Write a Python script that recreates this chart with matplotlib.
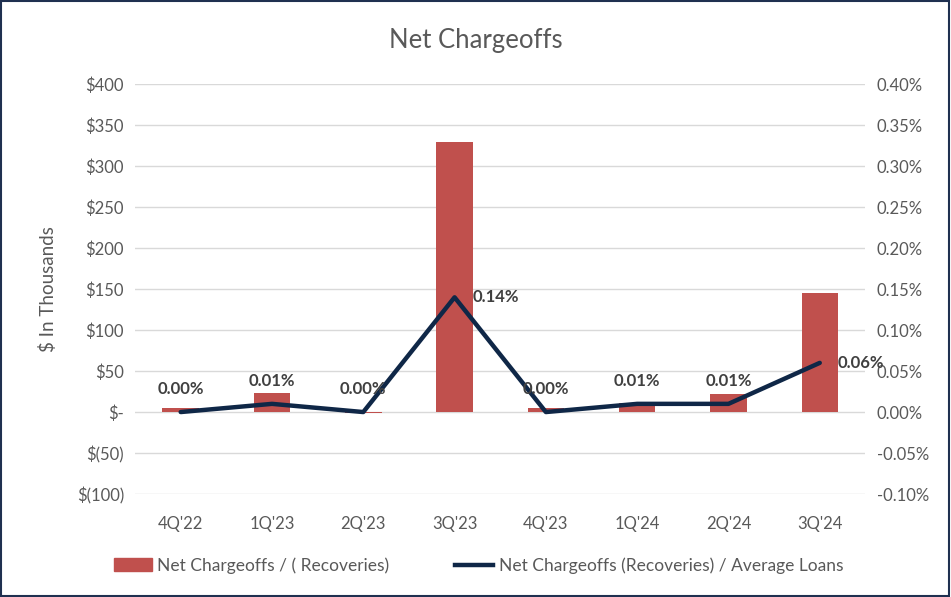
import matplotlib
matplotlib.use("Agg")
import matplotlib.pyplot as plt
from matplotlib.patches import Rectangle
from matplotlib.lines import Line2D

categories = ["4Q'22", "1Q'23", "2Q'23", "3Q'23", "4Q'23", "1Q'24", "2Q'24", "3Q'24"]
chargeoffs = [5, 23, -1, 330, 5, 11, 22, 145]
ratio_pct = [0.00, 0.01, 0.00, 0.14, 0.00, 0.01, 0.01, 0.06]
ratio_labels = ["0.00%", "0.01%", "0.00%", "0.14%", "0.00%", "0.01%", "0.01%", "0.06%"]
left_ticks = [-100, -50, 0, 50, 100, 150, 200, 250, 300, 350, 400]
right_ticks = [-0.10, -0.05, 0.00, 0.05, 0.10, 0.15, 0.20, 0.25, 0.30, 0.35, 0.40]

plt.rcParams['font.family'] = ['Lato', 'DejaVu Sans']
gray = "#595959"
bar_color = "#C0504D"
line_color = "#0F2747"

fig = plt.figure(figsize=(9.51, 5.97), dpi=100)
fig.patch.set_facecolor("white")
ax = fig.add_axes([0.142, 0.1725, 0.768, 0.6865])
ax2 = ax.twinx()

x = list(range(len(categories)))
ax.bar(x, chargeoffs, width=0.4, color=bar_color, zorder=2)
ax.set_ylim(-100, 400)
ax.set_xlim(-0.5, len(categories) - 0.5)
ax.set_yticks(left_ticks)

def fmt_dollar(v):
    if v == 0:
        return "$-"
    if v < 0:
        return f"$({abs(v)})"
    return f"${v}"

ax.set_yticklabels([fmt_dollar(v) for v in left_ticks])
ax.set_xticks(x)
ax.set_xticklabels(categories)
ax.grid(axis='y', color="#D9D9D9", linewidth=1, zorder=0)
ax.set_axisbelow(True)
for s in ax.spines.values():
    s.set_visible(False)
for s in ax2.spines.values():
    s.set_visible(False)
ax.tick_params(axis='both', length=0, colors=gray, labelsize=12, pad=8)
ax.tick_params(axis='x', pad=16)
ax.set_ylabel("$ In Thousands", fontsize=13.5, color=gray, labelpad=14)

ax2.plot(x, ratio_pct, color=line_color, linewidth=3.2, zorder=3, solid_capstyle='round')
ax2.set_ylim(-0.10, 0.40)
ax2.set_yticks(right_ticks)
ax2.set_yticklabels([f"{v:.2f}%" for v in right_ticks])
ax2.tick_params(axis='y', length=0, colors=gray, labelsize=12, pad=8)

for i, (v, lab) in enumerate(zip(ratio_pct, ratio_labels)):
    if i in (3, 7):
        ax2.annotate(lab, (i, v), xytext=(13, 0), textcoords='offset points',
                     ha='left', va='center', fontsize=12, fontweight='bold', color="#404040")
    else:
        ax2.annotate(lab, (i, v), xytext=(0, 11), textcoords='offset points',
                     ha='center', va='bottom', fontsize=12, fontweight='bold', color="#404040")

fig.text(0.5, 0.932, "Net Chargeoffs", ha='center', va='center', fontsize=18.5, color=gray)

handles = [Rectangle((0, 0), 1, 1, color=bar_color),
           Line2D([0], [0], color=line_color, linewidth=3.2)]
fig.legend(handles, ["Net Chargeoffs / ( Recoveries)", "Net Chargeoffs (Recoveries) / Average Loans"],
           loc='center', bbox_to_anchor=(0.503, 0.053), ncol=2, frameon=False,
           fontsize=12.5, labelcolor=gray, handlelength=2.2, handletextpad=0.3, columnspacing=3.8)

border = Rectangle((0.001, 0.001), 0.997, 0.997, transform=fig.transFigure,
                   fill=False, edgecolor="#1F3050", linewidth=1.5)
fig.patches.append(border)

fig.savefig("out.png", dpi=100)
